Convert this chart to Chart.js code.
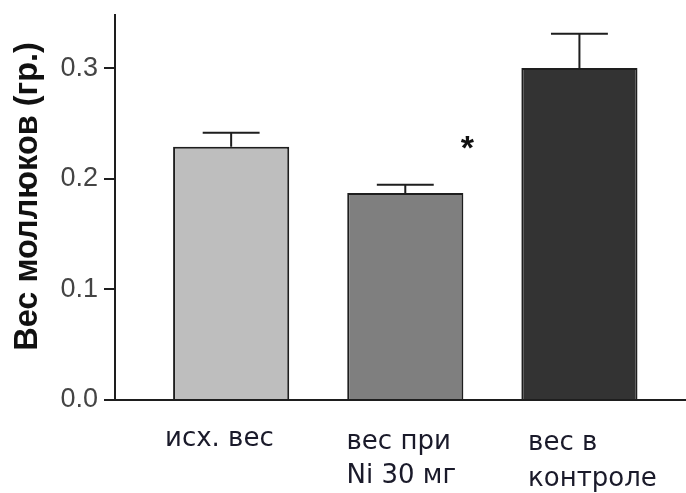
<!DOCTYPE html>
<html>
<head>
<meta charset="utf-8">
<script src="https://cdn.jsdelivr.net/npm/chart.js@4/dist/chart.umd.min.js"></script>
<style>
  html, body { margin: 0; padding: 0; background: #ffffff; }
  #wrap { width: 686px; height: 493px; position: relative; }
</style>
</head>
<body>
<div id="wrap"><canvas id="chart"></canvas></div>
<script>
// Group names (multi-line where the label wraps)
const categories = ['исх. вес', ['вес при', 'Ni 30 мг'], ['вес в', 'контроле']];
// Mean mollusc weight, g
const means = [0.229, 0.187, 0.300];
// Error (upper whisker), g
const errors = [0.0125, 0.0075, 0.031];
// Groups marked as significantly different
const significant = [false, true, false];
// Y axis tick values
const yTicks = [0.0, 0.1, 0.2, 0.3];
const yTitle = 'Вес моллюков (гр.)';

const barColors = ['#bebebe', '#7f7f7f', '#333333'];
const labelLineHeights = ['28px', '34px', '36px'];
const INK = '#1e1e1e';

// Whiskers with caps on top of each bar, plus the significance asterisk
const errorBarPlugin = {
  id: 'errorBars',
  afterDatasetsDraw(chart) {
    const meta = chart.getDatasetMeta(0);
    const yScale = chart.scales.y;
    const ctx = chart.ctx;
    ctx.save();
    ctx.strokeStyle = INK;
    ctx.lineWidth = 2;
    meta.data.forEach((bar, i) => {
      const yTop = yScale.getPixelForValue(means[i] + errors[i]);
      const half = bar.width * 0.245;
      ctx.beginPath();
      ctx.moveTo(bar.x, bar.y);
      ctx.lineTo(bar.x, yTop);
      ctx.moveTo(bar.x - half, yTop);
      ctx.lineTo(bar.x + half, yTop);
      ctx.stroke();
      if (significant[i]) {
        ctx.fillStyle = '#111';
        ctx.font = 'bold 34px "Liberation Sans", Arial, sans-serif';
        ctx.textAlign = 'center';
        ctx.textBaseline = 'alphabetic';
        ctx.fillText('*', bar.x + bar.width / 2 + 4, yTop - 26);
      }
    });
    ctx.restore();
  }
};

// Rotated y axis title, centred a little above the middle of the axis
const yTitlePlugin = {
  id: 'yTitle',
  afterDraw(chart) {
    const ctx = chart.ctx;
    const a = chart.chartArea;
    ctx.save();
    ctx.translate(28, (a.top + a.bottom) / 2 - 11);
    ctx.rotate(-Math.PI / 2);
    ctx.fillStyle = '#111';
    ctx.font = 'bold 32.5px "Liberation Sans", Arial, sans-serif';
    ctx.textAlign = 'center';
    ctx.textBaseline = 'middle';
    ctx.fillText(yTitle, 0, 0);
    ctx.restore();
  }
};

const groupTicks = (s) => { s.ticks = categories.map((_, i) => ({ value: i })); };

new Chart(document.getElementById('chart'), {
  type: 'bar',
  data: {
    datasets: [{
      data: means.map((m, i) => ({ x: i, y: m })),
      backgroundColor: barColors,
      borderColor: INK,
      borderWidth: 2,
      categoryPercentage: 1,
      barPercentage: 0.667,
      xAxisID: 'x',
      yAxisID: 'y'
    }]
  },
  options: {
    responsive: true,
    maintainAspectRatio: false,
    animation: false,
    layout: { padding: { top: 15, right: 0, bottom: 0, left: 0 } },
    plugins: { legend: { display: false }, tooltip: { enabled: false } },
    scales: {
      x: {
        type: 'linear',
        weight: 0,
        min: -0.667,
        max: 2.612,
        offset: false,
        afterBuildTicks: groupTicks,
        grid: { display: false, drawTicks: false },
        border: { display: true, color: INK, width: 2 },
        ticks: { display: false },
        afterFit(s) { s.height = 0; s.paddingLeft = 0; s.paddingRight = 0; }
      },
      // category names, set slightly apart from the bar centres
      xl: {
        type: 'linear',
        position: 'bottom',
        weight: 10,
        min: -0.2755,
        max: 2.870,
        offset: false,
        grid: { display: false, drawTicks: false },
        border: { display: false },
        afterBuildTicks: groupTicks,
        ticks: {
          align: 'start',
          padding: 25,
          autoSkip: false,
          maxRotation: 0,
          color: '#1a1a2a',
          font: (c) => ({
            family: '"DejaVu Sans", Verdana, sans-serif',
            size: 26,
            lineHeight: labelLineHeights[c.index] || '34px'
          }),
          callback: (v, i) => categories[i]
        },
        afterFit(s) { s.height = 93; s.paddingLeft = 0; s.paddingRight = 0; }
      },
      y: {
        min: 0,
        max: 0.348,
        afterBuildTicks(s) { s.ticks = yTicks.map(v => ({ value: v })); },
        border: { display: true, color: INK, width: 2 },
        grid: { drawOnChartArea: false, drawTicks: true, tickLength: 11, color: INK, lineWidth: 2 },
        ticks: {
          padding: 6,
          color: '#444',
          font: { family: '"Liberation Sans", Arial, sans-serif', size: 27 },
          callback: (v) => Number(v).toFixed(1)
        },
        afterFit(s) { s.width = 115; s.paddingTop = 0; s.paddingBottom = 0; }
      }
    }
  },
  plugins: [errorBarPlugin, yTitlePlugin]
});
</script>
</body>
</html>
